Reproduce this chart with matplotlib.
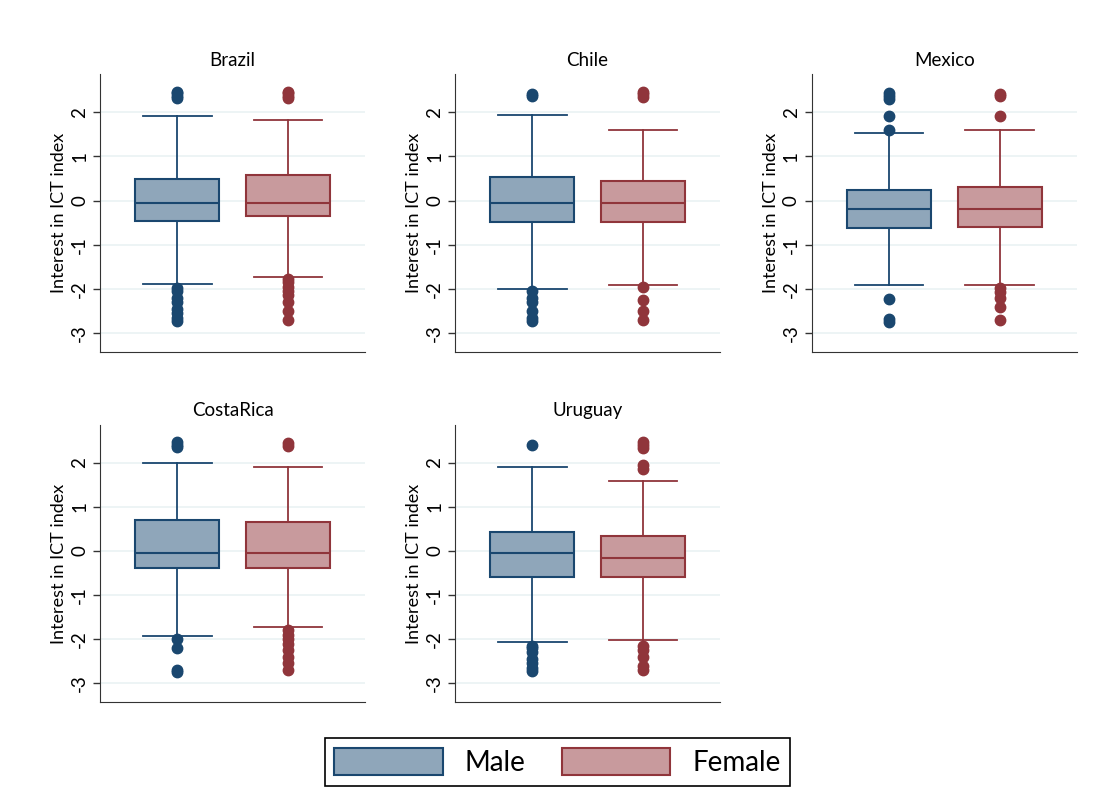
import matplotlib.pyplot as plt
from matplotlib.patches import Patch

countries = ["Brazil", "Chile", "Mexico", "CostaRica", "Uruguay"]
groups = ["Male", "Female"]

# box stats per country: [male, female]
q1 = {"Brazil": [-0.47, -0.36], "Chile": [-0.48, -0.48], "Mexico": [-0.62, -0.60],
      "CostaRica": [-0.38, -0.38], "Uruguay": [-0.60, -0.60]}
med = {"Brazil": [-0.05, -0.05], "Chile": [-0.05, -0.05], "Mexico": [-0.20, -0.20],
       "CostaRica": [-0.05, -0.05], "Uruguay": [-0.05, -0.17]}
q3 = {"Brazil": [0.50, 0.58], "Chile": [0.53, 0.44], "Mexico": [0.24, 0.30],
      "CostaRica": [0.70, 0.65], "Uruguay": [0.42, 0.34]}
whis_lo = {"Brazil": [-1.90, -1.73], "Chile": [-2.00, -1.92], "Mexico": [-1.92, -1.92],
           "CostaRica": [-1.92, -1.73], "Uruguay": [-2.06, -2.02]}
whis_hi = {"Brazil": [1.91, 1.83], "Chile": [1.93, 1.60], "Mexico": [1.53, 1.59],
           "CostaRica": [2.00, 1.91], "Uruguay": [1.90, 1.59]}
outliers = {
    "Brazil": [[2.33, 2.38, 2.43, 2.47, -1.97, -2.05, -2.2, -2.3, -2.45, -2.55, -2.65, -2.72],
               [2.33, 2.38, 2.43, 2.47, -1.78, -1.85, -1.95, -2.05, -2.15, -2.3, -2.5, -2.7]],
    "Chile": [[2.38, 2.42, -2.05, -2.2, -2.3, -2.5, -2.65, -2.72],
              [2.35, 2.41, 2.47, -1.95, -2.25, -2.5, -2.7]],
    "Mexico": [[2.3, 2.37, 2.45, 1.92, 1.6, -2.22, -2.68, -2.75],
               [2.38, 2.42, 1.92, -1.98, -2.08, -2.2, -2.42, -2.7]],
    "CostaRica": [[2.35, 2.41, 2.47, -2.0, -2.2, -2.7, -2.75],
                  [2.38, 2.45, -1.8, -1.9, -2.0, -2.1, -2.25, -2.4, -2.55, -2.7]],
    "Uruguay": [[2.4, -2.15, -2.2, -2.3, -2.45, -2.55, -2.65, -2.72],
                [2.33, 2.4, 2.47, 1.85, 1.95, -2.15, -2.25, -2.4, -2.6, -2.7]],
}

edge_cols = ["#1a476f", "#90353b"]
fill_cols = ["#8fa6ba", "#c89a9d"]

plt.rcParams['font.family'] = ['Lato', 'DejaVu Sans']

fig = plt.figure(figsize=(11.15, 8.09), dpi=100)

lefts = [0.0897, 0.408, 0.728, 0.0897, 0.408]
bottoms = [0.565, 0.565, 0.565, 0.132, 0.132]
w, h = 0.238, 0.343

for i, c in enumerate(countries):
    ax = fig.add_axes([lefts[i], bottoms[i], w, h])
    for y in [-3, -2, -1, 0, 1, 2]:
        ax.axhline(y, color="#eaf2f3", lw=1.2, zorder=0)
    for g in range(2):
        stats = [dict(med=med[c][g], q1=q1[c][g], q3=q3[c][g],
                      whislo=whis_lo[c][g], whishi=whis_hi[c][g],
                      fliers=outliers[c][g], label=groups[g])]
        ax.bxp(stats, positions=[g + 1], widths=0.76, patch_artist=True,
               boxprops=dict(facecolor=fill_cols[g], edgecolor=edge_cols[g], lw=1.5),
               medianprops=dict(color=edge_cols[g], lw=1.5),
               whiskerprops=dict(color=edge_cols[g], lw=1.3),
               capprops=dict(color=edge_cols[g], lw=1.3),
               capwidths=0.62,
               flierprops=dict(marker='o', markerfacecolor=edge_cols[g],
                               markeredgecolor=edge_cols[g], markersize=7.5))
    ax.set_xlim(0.3, 2.7)
    ax.set_ylim(-3.43, 2.86)
    ax.set_xticks([])
    ax.set_yticks([-3, -2, -1, 0, 1, 2])
    ax.set_yticklabels(["-3", "-2", "-1", "0", "1", "2"], rotation=90, va="center", fontsize=13.5)
    ax.tick_params(axis="y", length=5, color="#333333", width=1)
    for s in ["top", "right"]:
        ax.spines[s].set_visible(False)
    for s in ["left", "bottom"]:
        ax.spines[s].set_color("#333333")
    ax.set_ylabel("Interest in ICT index", fontsize=13, labelpad=3)
    ax.set_title(c, fontsize=13.5)

handles = [Patch(facecolor=fill_cols[g], edgecolor=edge_cols[g], lw=1.5, label=groups[g]) for g in range(2)]
leg = fig.legend(handles=handles, loc="center", bbox_to_anchor=(0.5, 0.058), ncol=2,
                 fontsize=20, handlelength=3.9, handleheight=1.1, columnspacing=1.3,
                 handletextpad=0.8, fancybox=False, edgecolor="black", framealpha=1,
                 borderpad=0.35)
leg.get_frame().set_linewidth(1.2)

fig.savefig("out.png", dpi=100)
